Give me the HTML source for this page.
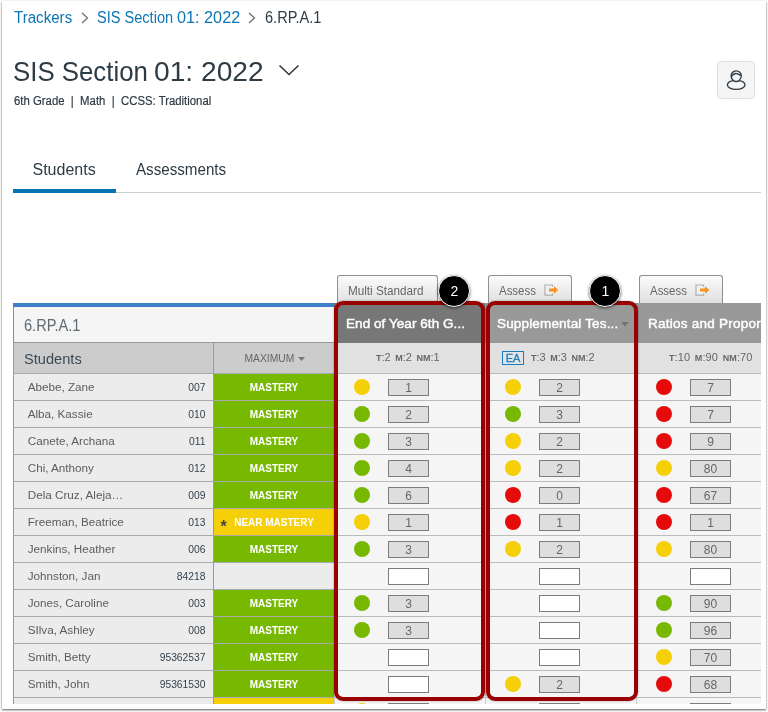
<!DOCTYPE html>
<html lang="en"><head><meta charset="utf-8"><title>Tracker</title>
<style>
html,body{margin:0;padding:0}
body{width:768px;height:712px;overflow:hidden;background:#fff;position:relative;font-family:"Liberation Sans",sans-serif}
#frame{position:absolute;left:2px;top:1px;width:764px;height:707.500px;background:#fff;box-shadow:0 1px 2px rgba(0,0,0,.65)}
#clip{position:absolute;left:0;top:0;width:761px;height:704px;overflow:hidden}
.t{position:absolute;white-space:nowrap;line-height:1;transform-origin:0 0}
a{color:#0c75b5;text-decoration:none}
/* breadcrumbs */
.bc{font-size:16px;top:10px;color:#2d3b45}
/* title */
#title{left:13px;top:58px;transform:scaleX(.922);font-size:28px;color:#2d3b45}
#title2{left:153.800px;top:58px;transform:scaleX(1.006);font-size:28px;color:#2d3b45}
#sub{left:14px;top:95px;transform:scaleX(.947);font-size:12px;color:#2d3b45;-webkit-text-stroke:.2px #2d3b45}
#ubtn{position:absolute;left:717px;top:61px;width:36px;height:36px;border:1px solid #dfe1e3;border-radius:4px;background:#f5f5f5;box-sizing:content-box}
.tab{font-size:16px;top:162px;color:#2d3b45}
#tabline{position:absolute;left:13px;top:192px;width:748px;height:1px;background:#c7cdd1}
#tabsel{position:absolute;left:13px;top:189px;width:103px;height:4px;background:#0573b4}
/* buttons */
.btn{position:absolute;top:275px;height:28px;box-sizing:border-box;border:1px solid #8f8f8f;border-bottom:none;border-radius:3px 3px 0 0;background:linear-gradient(#fbfbfb,#dfdfdf);font-size:12px;color:#666}
.btn span{position:absolute;top:8px;white-space:nowrap;line-height:1}
/* table */
#blue{position:absolute;left:13px;top:303px;width:321px;height:4px;background:#3d80c9}
#stdrow{position:absolute;left:13px;top:307px;width:321px;height:35px;background:#f5f5f5;border-left:1px solid #8c8c8c;box-sizing:border-box}
#stdrow span{position:absolute;left:10px;top:10px;font-size:16.200px;color:#5f6a72;transform:scaleX(.9);transform-origin:0 0;line-height:1;white-space:nowrap}
#sthead{position:absolute;left:13px;top:342px;width:200px;height:31px;background:#cccccc;border:1px solid #999;border-bottom:none;border-right:none;box-sizing:border-box}
#sthead span{position:absolute;left:10.400px;top:7.700px;font-size:15px;color:#3c4a54;line-height:1;transform:scaleX(.975);transform-origin:0 0}
#mxhead{position:absolute;left:213px;top:342px;width:121px;height:31px;background:#cccccc;border-top:1px solid #999;border-left:1px solid #999;box-sizing:border-box}
#mxhead span{position:absolute;left:30.500px;top:11px;font-size:10.300px;color:#666;line-height:1}
.ah{z-index:1;position:absolute;top:303px;width:151px;height:39.700px;background:#999;color:#fff;font-weight:normal;font-size:13.500px;-webkit-text-stroke:.45px #fff}
.ah span{position:absolute;left:12px;top:14px;line-height:1;white-space:nowrap}
.ash{position:absolute;top:342px;width:151px;height:31px;background:#e1e1e1;border-left:1px solid #bbb;box-sizing:border-box;color:#666;font-size:11px}
.ash span{position:absolute;top:10px;line-height:1;white-space:nowrap;word-spacing:1.500px}
.ash small{font-size:9px;font-weight:bold}
.row{position:absolute;left:14px;width:760px;height:27px}
.row>div{position:absolute;top:0;height:27px;box-sizing:border-box;border-top:1px solid #aaa}
.nm{left:-1px;width:200px;background:#ececec;border-left:1px solid #999;font-size:11.700px;color:#5c5c5c;padding:7.300px 0 0 13.700px;line-height:1;white-space:nowrap}
.sid{left:100px;width:91.500px;text-align:right;font-size:10.300px;color:#36424c;padding-top:10.200px;line-height:1;border-top:none!important;background:none}
.mx{left:199px;width:121px;background:#ececec;border-left:1px solid #999;text-align:center;color:#fff;font-weight:bold;font-size:10px;line-height:1;padding-top:9px}
.mx.g{background:#76b900}
.mx.y{background:#f5cf08}
.mx i{position:absolute;left:6.500px;top:10px;color:#444;font-style:normal;font-size:16px}
.mx .near{position:relative;left:0}
.ac{width:151px;background:#f5f5f5;border-left:1px solid #ccc;border-top-color:#bbb!important}
.dot{position:absolute;left:19px;top:5px;width:16px;height:16px;border-radius:50%}
.dot.g{background:#76b900}.dot.y{background:#f5cf08}.dot.r{background:#e60b0b}
.sb{position:absolute;left:53px;top:5px;width:41px;height:17px;box-sizing:border-box;border:1px solid #7c7c7c;background:#dedede;font-size:12px;color:#666;text-align:center;line-height:16.300px;font-weight:normal}
.sb.e{background:#fff}
/* annotations */
.red{z-index:2;position:absolute;box-sizing:border-box;border:4px solid #990000;border-radius:9px;box-shadow:0 0 2px rgba(0,0,0,.4)}
.num{z-index:3;position:absolute;width:32px;height:32px;border-radius:50%;background:#000;border:1px solid #fff;box-sizing:border-box;color:#fff;font-size:14px;text-align:center;line-height:30px;text-indent:1px;box-shadow:0 1px 3px rgba(0,0,0,.6)}
</style></head><body>
<div id="frame"></div>
<div id="clip">
<div class="t bc" style="left:14px;transform:scaleX(.944)"><a>Trackers</a></div>
<svg class="t" style="left:81px;top:12px" width="8" height="12" viewBox="0 0 8 12"><path d="M1 1l5.5 5L1 11" fill="none" stroke="#66717a" stroke-width="1.3"/></svg>
<div class="t bc" style="left:97.200px;transform:scaleX(.91)"><a>SIS Section</a></div><div class="t bc" style="left:176.800px;transform:scaleX(1.015)"><a>01: 2022</a></div>
<svg class="t" style="left:248px;top:12px" width="8" height="12" viewBox="0 0 8 12"><path d="M1 1l5.5 5L1 11" fill="none" stroke="#66717a" stroke-width="1.3"/></svg>
<div class="t bc" style="left:264.5px;transform:scaleX(.911)">6.RP.A.1</div>

<div class="t" id="title">SIS Section</div><div class="t" id="title2">01: 2022</div>
<svg class="t" style="left:278px;top:64px" width="22" height="12" viewBox="0 0 22 12"><path d="M1.5 1.5l9.5 9 9.5-9" fill="none" stroke="#2d3b45" stroke-width="1.6"/></svg>
<div class="t" id="sub">6th Grade&nbsp; |&nbsp; Math&nbsp; |&nbsp; CCSS: Traditional</div>
<div id="ubtn"><svg width="38" height="38" viewBox="0 0 38 38" style="position:absolute;left:-1px;top:-1px"><g fill="none" stroke="#2d3b45" stroke-width="1.3" stroke-linecap="round"><path d="M16 18.900A5.100 5.100 0 1 1 22.600 18.700"/><path d="M14.600 15.400c1.300-2.300 3.500-3.300 5.500-2.700 1.300.4 2.500 1.400 4.200 1.500"/><path d="M16 19.700c-3.300.6-5.600 2.200-5.600 4.400 0 2.400 3.900 4.300 8.800 4.300s8.800-1.900 8.800-4.300c0-2.200-2.300-3.800-5.600-4.400-1 .5-2 .8-3.200.8s-2.200-.3-3.200-.8z"/></g></svg></div>

<div class="t tab" style="left:32.5px">Students</div>
<div class="t tab" style="left:136px;transform:scaleX(.947)">Assessments</div>
<div id="tabline"></div><div id="tabsel"></div>

<div class="btn" style="left:337px;width:101px"><span style="left:10px;top:8.500px;transform:scaleX(.975);transform-origin:0 0">Multi Standard</span></div>
<div class="btn" style="left:488px;width:84px"><span style="left:10px;top:8.500px;transform:scaleX(.955);transform-origin:0 0">Assess</span><svg style="position:absolute;left:54.500px;top:7.500px" width="16" height="13" viewBox="0 0 16 13"><path d="M8.500 2.800V1H1v10.200h7.500V9.400" fill="#f1f1f1" stroke="#adadad" stroke-width="1.200"/><path d="M5 4.600h5V2.300L14.300 6 10 9.700V7.400H5z" fill="#f7931e"/></svg></div>
<div class="btn" style="left:639px;width:84px"><span style="left:10px;top:8.500px;transform:scaleX(.955);transform-origin:0 0">Assess</span><svg style="position:absolute;left:54.500px;top:7.500px" width="16" height="13" viewBox="0 0 16 13"><path d="M8.500 2.800V1H1v10.200h7.500V9.400" fill="#f1f1f1" stroke="#adadad" stroke-width="1.200"/><path d="M5 4.600h5V2.300L14.300 6 10 9.700V7.400H5z" fill="#f7931e"/></svg></div>

<div id="blue"></div>
<div id="stdrow"><span>6.RP.A.1</span></div>
<div id="sthead"><span>Students</span></div>
<div id="mxhead"><span>MAXIMUM</span><svg style="position:absolute;left:84px;top:14px" width="7.200" height="4.400" viewBox="0 0 8 5"><path d="M0 0h8L4 4.500z" fill="#777"/></svg></div>

<div class="ah" style="left:334px;background:#777"><span style="letter-spacing:.06px">End of Year 6th G...</span></div>
<div class="ah" style="left:485px"><span style="letter-spacing:.16px">Supplemental Tes...</span><svg style="position:absolute;left:136px;top:19px" width="8" height="5" viewBox="0 0 8 5"><path d="M0 0h8L4 4.500z" fill="#737373"/></svg></div>
<div class="ah" style="left:636px"><span style="letter-spacing:.25px">Ratios and Proportions</span></div>
<div class="ash" style="left:334px"><span style="left:41px"><small>T</small>:2 <small>M</small>:2 <small>NM</small>:1</span></div>
<div class="ash" style="left:485px"><b style="position:absolute;left:16.200px;top:8.600px;width:21.800px;height:14.500px;box-sizing:border-box;border:1.400px solid #1a7bbf;background:rgba(255,255,255,.12);color:#1a7bbf;font-size:11px;line-height:12px;-webkit-text-stroke:.3px #1a7bbf;text-align:center;font-weight:normal">EA</b><span style="left:45px"><small>T</small>:3 <small>M</small>:3 <small>NM</small>:2</span></div>
<div class="ash" style="left:636px"><span style="left:32px;letter-spacing:.1px"><small>T</small>:10 <small>M</small>:90 <small>NM</small>:70</span></div>

<div class="row" style="top:373px">
<div class="nm">Abebe, Zane</div><div class="sid">007</div>
<div class="mx g"><span>MASTERY</span></div>
<div class="ac" style="left:320px">
<b class="dot y"></b>
<span class="sb">1</span></div>
<div class="ac" style="left:471px">
<b class="dot y"></b>
<span class="sb">2</span></div>
<div class="ac" style="left:622px">
<b class="dot r"></b>
<span class="sb">7</span></div>
</div>
<div class="row" style="top:400px">
<div class="nm">Alba, Kassie</div><div class="sid">010</div>
<div class="mx g"><span>MASTERY</span></div>
<div class="ac" style="left:320px">
<b class="dot g"></b>
<span class="sb">2</span></div>
<div class="ac" style="left:471px">
<b class="dot g"></b>
<span class="sb">3</span></div>
<div class="ac" style="left:622px">
<b class="dot r"></b>
<span class="sb">7</span></div>
</div>
<div class="row" style="top:427px">
<div class="nm">Canete, Archana</div><div class="sid">011</div>
<div class="mx g"><span>MASTERY</span></div>
<div class="ac" style="left:320px">
<b class="dot g"></b>
<span class="sb">3</span></div>
<div class="ac" style="left:471px">
<b class="dot y"></b>
<span class="sb">2</span></div>
<div class="ac" style="left:622px">
<b class="dot r"></b>
<span class="sb">9</span></div>
</div>
<div class="row" style="top:454px">
<div class="nm">Chi, Anthony</div><div class="sid">012</div>
<div class="mx g"><span>MASTERY</span></div>
<div class="ac" style="left:320px">
<b class="dot g"></b>
<span class="sb">4</span></div>
<div class="ac" style="left:471px">
<b class="dot y"></b>
<span class="sb">2</span></div>
<div class="ac" style="left:622px">
<b class="dot y"></b>
<span class="sb">80</span></div>
</div>
<div class="row" style="top:481px">
<div class="nm">Dela Cruz, Aleja…</div><div class="sid">009</div>
<div class="mx g"><span>MASTERY</span></div>
<div class="ac" style="left:320px">
<b class="dot g"></b>
<span class="sb">6</span></div>
<div class="ac" style="left:471px">
<b class="dot r"></b>
<span class="sb">0</span></div>
<div class="ac" style="left:622px">
<b class="dot r"></b>
<span class="sb">67</span></div>
</div>
<div class="row" style="top:508px">
<div class="nm">Freeman, Beatrice</div><div class="sid">013</div>
<div class="mx y"><i>*</i><span class="near">NEAR MASTERY</span></div>
<div class="ac" style="left:320px">
<b class="dot y"></b>
<span class="sb">1</span></div>
<div class="ac" style="left:471px">
<b class="dot r"></b>
<span class="sb">1</span></div>
<div class="ac" style="left:622px">
<b class="dot r"></b>
<span class="sb">1</span></div>
</div>
<div class="row" style="top:535px">
<div class="nm">Jenkins, Heather</div><div class="sid">006</div>
<div class="mx g"><span>MASTERY</span></div>
<div class="ac" style="left:320px">
<b class="dot g"></b>
<span class="sb">3</span></div>
<div class="ac" style="left:471px">
<b class="dot y"></b>
<span class="sb">2</span></div>
<div class="ac" style="left:622px">
<b class="dot y"></b>
<span class="sb">80</span></div>
</div>
<div class="row" style="top:562px">
<div class="nm">Johnston, Jan</div><div class="sid">84218</div>
<div class="mx"></div>
<div class="ac" style="left:320px">
<span class="sb e"></span></div>
<div class="ac" style="left:471px">
<span class="sb e"></span></div>
<div class="ac" style="left:622px">
<span class="sb e"></span></div>
</div>
<div class="row" style="top:589px">
<div class="nm">Jones, Caroline</div><div class="sid">003</div>
<div class="mx g"><span>MASTERY</span></div>
<div class="ac" style="left:320px">
<b class="dot g"></b>
<span class="sb">3</span></div>
<div class="ac" style="left:471px">
<span class="sb e"></span></div>
<div class="ac" style="left:622px">
<b class="dot g"></b>
<span class="sb">90</span></div>
</div>
<div class="row" style="top:616px">
<div class="nm">SIlva, Ashley</div><div class="sid">008</div>
<div class="mx g"><span>MASTERY</span></div>
<div class="ac" style="left:320px">
<b class="dot g"></b>
<span class="sb">3</span></div>
<div class="ac" style="left:471px">
<span class="sb e"></span></div>
<div class="ac" style="left:622px">
<b class="dot g"></b>
<span class="sb">96</span></div>
</div>
<div class="row" style="top:643px">
<div class="nm">Smith, Betty</div><div class="sid">95362537</div>
<div class="mx g"><span>MASTERY</span></div>
<div class="ac" style="left:320px">
<span class="sb e"></span></div>
<div class="ac" style="left:471px">
<span class="sb e"></span></div>
<div class="ac" style="left:622px">
<b class="dot y"></b>
<span class="sb">70</span></div>
</div>
<div class="row" style="top:670px">
<div class="nm">Smith, John</div><div class="sid">95361530</div>
<div class="mx g"><span>MASTERY</span></div>
<div class="ac" style="left:320px">
<span class="sb e"></span></div>
<div class="ac" style="left:471px">
<b class="dot y"></b>
<span class="sb">2</span></div>
<div class="ac" style="left:622px">
<b class="dot r"></b>
<span class="sb">68</span></div>
</div>
<div class="row" style="top:697px">
<div class="nm"></div><div class="sid"></div>
<div class="mx y"></div>
<div class="ac" style="left:320px">
<b class="dot y"></b>
<span class="sb e"></span></div>
<div class="ac" style="left:471px">
<span class="sb e"></span></div>
<div class="ac" style="left:622px">
<span class="sb e"></span></div>
</div>

<div class="red" style="left:334px;top:301px;width:151px;height:400px"></div>
<div class="red" style="left:486px;top:301px;width:152px;height:400px"></div>
<div class="num" style="left:438px;top:275px">2</div>
<div class="num" style="left:589px;top:275px">1</div>
</div>
</body></html>
